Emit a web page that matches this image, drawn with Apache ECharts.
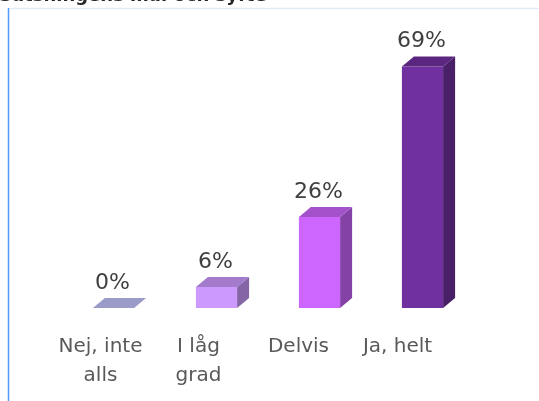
<!DOCTYPE html>
<html>
<head>
<meta charset="utf-8">
<script src="https://cdn.jsdelivr.net/npm/echarts@6/dist/echarts.min.js"></script>
<style>
  html, body { margin: 0; padding: 0; background: #fff; }
  #chart { width: 539px; height: 401px; }
</style>
</head>
<body>
<div id="chart"></div>
<script>
  // data
  var categories = ['Nej, inte\nalls', 'I låg\ngrad', 'Delvis', 'Ja, helt'];
  var percent = [0, 6, 26, 69];

  // front / top / side colours per bar
  var frontColors = ['#9999CC', '#CC99FF', '#CC66FF', '#7030A0'];
  var topColors = ['#9B9BC9', '#A37ACC', '#A352CC', '#5A2680'];
  var sideColors = ['#7A7AA3', '#8565A6', '#8542A6', '#491F68'];
  // labels sit a bit left of the bars (in px, doubled as right padding)
  var labelShift = [26, 36, 42, 50];

  var font = '"DejaVu Sans", Verdana, sans-serif';
  var chart = echarts.init(document.getElementById('chart'));

  var rich = {};
  labelShift.forEach(function (s, i) {
    rich['c' + i] = {
      color: '#595959',
      fontFamily: font,
      fontSize: 20,
      lineHeight: 29,
      padding: [0, s, 0, 0]
    };
  });

  var option = {
    animation: false,
    title: {
      text: 'Satsningens mål och syfte',
      left: -6,
      top: -18,
      textStyle: { fontFamily: font, fontSize: 18, fontWeight: 'bold', color: '#262626' }
    },
    graphic: [
      { type: 'line', shape: { x1: 9, y1: 8.5, x2: 539, y2: 8.5 }, style: { stroke: '#E3EDFA', lineWidth: 1.5 } },
      { type: 'line', shape: { x1: 8.5, y1: 8, x2: 8.5, y2: 401 }, style: { stroke: '#5599FF', lineWidth: 1.5 } }
    ],
    grid: { left: 62, right: 65, top: 28, bottom: 93 },
    xAxis: {
      type: 'category',
      data: categories,
      axisLine: { show: false },
      axisTick: { show: false },
      axisLabel: {
        interval: 0,
        color: '#595959',
        fontFamily: font,
        fontSize: 20,
        lineHeight: 29,
        margin: 24,
        formatter: function (value, index) {
          return value.split('\n').map(function (line) {
            return '{c' + index + '|' + line + '}';
          }).join('\n');
        },
        rich: rich
      }
    },
    yAxis: {
      type: 'value',
      min: 0,
      max: 80,
      show: false,
      splitLine: { show: false }
    },
    series: [{
      type: 'custom',
      data: percent.map(function (v, i) { return [i, v]; }),
      renderItem: function (params, api) {
        var i = api.value(0);
        var base = api.coord([i, 0]);
        var top = api.coord([i, api.value(1)]);
        var w = api.size([1, 0])[0] * 0.4;
        var x0 = base[0] - w / 2, x1 = base[0] + w / 2;
        var yb = base[1], yt = top[1];
        var dx = 12, dy = 10;
        var children = [];
        if (yb - yt > 0.5) {
          children.push({ type: 'rect', shape: { x: x0, y: yt, width: w, height: yb - yt }, style: { fill: frontColors[i] } });
          children.push({ type: 'polygon', shape: { points: [[x1, yt], [x1 + dx, yt - dy], [x1 + dx, yb - dy], [x1, yb]] }, style: { fill: sideColors[i] } });
        }
        children.push({ type: 'polygon', shape: { points: [[x0, yt], [x0 + dx, yt - dy], [x1 + dx, yt - dy], [x1, yt]] }, style: { fill: topColors[i] } });
        children.push({
          type: 'text',
          style: {
            x: base[0] - 1, y: yt - dy - 15,
            text: api.value(1) + '%',
            fill: '#404040',
            font: '22px ' + font,
            align: 'center',
            verticalAlign: 'middle'
          }
        });
        return { type: 'group', children: children };
      }
    }]
  };
  chart.setOption(option);
</script>
</body>
</html>
